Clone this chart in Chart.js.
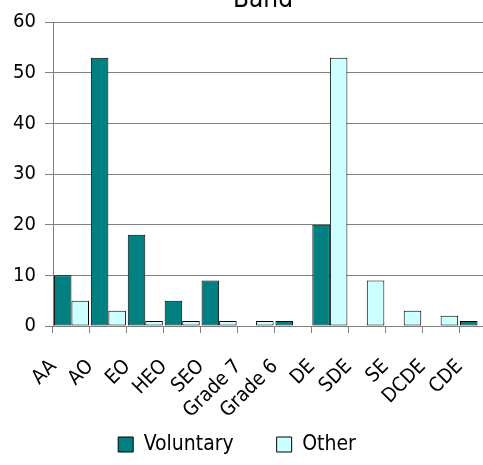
<!DOCTYPE html>
<html>
<head>
<meta charset="utf-8">
<script src="https://cdn.jsdelivr.net/npm/chart.js@4.4.1/dist/chart.umd.min.js"></script>
<style>
  html, body { margin: 0; padding: 0; background: #fff; overflow: hidden; }
  #wrap { position: absolute; left: 0; top: -15px; }
</style>
</head>
<body>
<div id="wrap"><canvas id="chart" width="500" height="480"></canvas></div>
<script>
// data
const bands = ["AA", "AO", "EO", "HEO", "SEO", "Grade 7", "Grade 6", "DE", "SDE", "SE", "DCDE", "CDE"];
const voluntary = [10, 53, 18, 5, 9, 0, 1, 20, 0, 0, 0, 1];
const other = [5, 3, 1, 1, 1, 1, 0, 53, 9, 3, 2, 0];
const yTicks = [0, 10, 20, 30, 40, 50, 60];

Chart.defaults.font.family = "'DejaVu Sans Condensed', 'DejaVu Sans', sans-serif";
Chart.defaults.color = "#000";

const gridGrey = "#808080";

// nudge title / legend sideways like the original sheet layout
const nudge = {
  id: "nudge",
  afterLayout(chart) {
    chart.titleBlock.left += 15;
    chart.titleBlock.right += 15;
    chart.legend.left -= 11;
    chart.legend.right -= 11;
  }
};

new Chart(document.getElementById("chart"), {
  type: "bar",
  data: {
    labels: bands,
    datasets: [
      {
        label: "Voluntary",
        data: voluntary,
        backgroundColor: "#008080",
        borderColor: "#000",
        borderWidth: 1,
        borderSkipped: false
      },
      {
        label: "Other",
        data: other,
        backgroundColor: "#CCFFFF",
        borderColor: "#000",
        borderWidth: 1,
        borderSkipped: false
      }
    ]
  },
  plugins: [nudge],
  options: {
    responsive: false,
    animation: false,
    layout: { padding: { left: 0, right: 4, top: 0, bottom: 0 } },
    datasets: { bar: { categoryPercentage: 0.95, barPercentage: 1.0 } },
    plugins: {
      title: {
        display: true,
        text: "Band",
        font: { size: 26, weight: "normal" },
        padding: { top: 0, bottom: 6 }
      },
      legend: {
        position: "bottom",
        labels: {
          boxWidth: 15,
          boxHeight: 15,
          padding: 43,
          font: { size: 21 },
          generateLabels: (chart) => chart.data.datasets.map((ds, i) => ({
            text: ds.label,
            fillStyle: ds.backgroundColor,
            strokeStyle: "#000",
            lineWidth: 1,
            datasetIndex: i
          }))
        }
      },
      tooltip: { enabled: false }
    },
    scales: {
      x: {
        grid: {
          offset: true,
          drawOnChartArea: false,
          drawTicks: true,
          tickLength: 7,
          color: gridGrey
        },
        border: { color: gridGrey },
        ticks: {
          minRotation: 45,
          maxRotation: 45,
          autoSkip: false,
          labelOffset: -18,
          padding: 22,
          font: { size: 20 }
        },
        afterFit: (scale) => {
          scale.height = 65;
          scale.paddingLeft = 0;
          scale.paddingRight = 0;
          // rotated labels run below the axis box, don't clip them
          scale._computeLabelArea = () => undefined;
        }
      },
      y: {
        min: 0,
        max: 60,
        afterBuildTicks: (scale) => { scale.ticks = yTicks.map(v => ({ value: v })); },
        grid: { color: gridGrey, tickLength: 8 },
        border: { color: gridGrey },
        ticks: { padding: 9, font: { size: 20 } },
        afterFit: (scale) => { scale.width = 53; }
      }
    }
  }
});
</script>
</body>
</html>
